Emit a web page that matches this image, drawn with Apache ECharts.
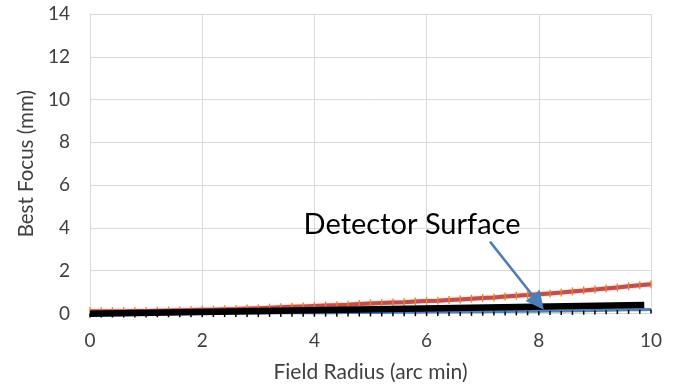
<!DOCTYPE html>
<html>
<head>
<meta charset="utf-8">
<script src="https://cdn.jsdelivr.net/npm/echarts@6/dist/echarts.min.js"></script>
<style>html,body{margin:0;padding:0;background:#fff}#c{width:673px;height:385px}</style>
</head>
<body>
<div id="c"></div>
<script>
// Field radius samples (arc min)
const radius = [0,0.2,0.4,0.6,0.8,1,1.2,1.4,1.6,1.8,2,2.2,2.4,2.6,2.8,3,3.2,3.4,3.6,3.8,4,4.2,4.4,4.6,4.8,5,5.2,5.4,5.6,5.8,6,6.2,6.4,6.6,6.8,7,7.2,7.4,7.6,7.8,8,8.2,8.4,8.6,8.8,9,9.2,9.4,9.6,9.8,10];
// Best focus, red series (mm)
const bestFocusRed = [0.10,0.10,0.11,0.11,0.12,0.12,0.13,0.14,0.15,0.16,0.17,0.18,0.20,0.21,0.23,0.25,0.27,0.29,0.31,0.33,0.35,0.37,0.39,0.41,0.44,0.47,0.49,0.51,0.53,0.56,0.58,0.60,0.63,0.66,0.69,0.72,0.75,0.79,0.83,0.86,0.90,0.94,0.98,1.03,1.07,1.12,1.17,1.22,1.27,1.32,1.37];
// Best focus, blue series (mm)
const bestFocusBlue = [0,0,0,0,0.005,0.005,0.01,0.01,0.01,0.015,0.015,0.02,0.02,0.02,0.025,0.025,0.03,0.03,0.03,0.035,0.035,0.04,0.04,0.045,0.045,0.05,0.05,0.055,0.06,0.06,0.065,0.07,0.07,0.075,0.08,0.085,0.09,0.095,0.10,0.105,0.11,0.115,0.12,0.125,0.13,0.14,0.15,0.16,0.17,0.18,0.19];
// Detector surface (straight line endpoints)
const detectorX = [0, 9.88];
const detectorY = [-0.01, 0.40];
// Annotation
const annotationText = 'Detector Surface';
const annotationAt = [5.74, 4.16];
const arrowFrom = [7.13, 3.36];
const arrowTo = [7.99, 0.51];
// Axis ticks
const xTicks = [0, 2, 4, 6, 8, 10];
const yTicks = [0, 2, 4, 6, 8, 10, 12, 14];

const font = 'Lato, "Open Sans", sans-serif';
const chart = echarts.init(document.getElementById('c'), null, {renderer: 'canvas'});
chart.setOption({
  animation: false,
  grid: {left: 90, right: 22, top: 14, bottom: 71.5, containLabel: false, outerBoundsMode: 'none'},
  xAxis: {
    type: 'value', min: xTicks[0], max: xTicks[xTicks.length - 1], interval: 2,
    name: 'Field Radius (arc min)', nameLocation: 'middle', nameGap: 48,
    nameTextStyle: {fontFamily: font, fontSize: 21, color: '#404040'},
    axisLine: {show: true, lineStyle: {color: '#d9d9d9', width: 1}},
    axisTick: {show: false},
    axisLabel: {fontFamily: font, fontSize: 19, color: '#404040', margin: 18},
    splitLine: {show: true, lineStyle: {color: '#d9d9d9', width: 1}}
  },
  yAxis: {
    type: 'value', min: yTicks[0], max: yTicks[yTicks.length - 1], interval: 2,
    name: 'Best Focus (mm)', nameLocation: 'middle', nameGap: 49, nameRotate: 90,
    nameTextStyle: {fontFamily: font, fontSize: 20.5, color: '#404040'},
    axisLine: {show: true, lineStyle: {color: '#d9d9d9', width: 1}},
    axisTick: {show: false},
    axisLabel: {fontFamily: font, fontSize: 19, color: '#404040', margin: 20},
    splitLine: {show: true, lineStyle: {color: '#d9d9d9', width: 1}}
  },
  series: [
    {
      type: 'line', z: 2,
      data: radius.map((r, i) => [r, bestFocusRed[i]]),
      lineStyle: {color: '#c0504d', width: 4, shadowColor: 'rgba(192,80,77,0.5)', shadowBlur: 2},
      symbol: 'rect', symbolSize: [1.3, 8],
      itemStyle: {color: '#f07f2a'}
    },
    {
      type: 'line', z: 3, clip: false,
      data: radius.map((r, i) => [r, bestFocusBlue[i]]),
      lineStyle: {color: '#4f81bd', width: 3},
      symbol: 'rect', symbolSize: [1.5, 4], symbolOffset: [0, 2],
      itemStyle: {color: '#000'}
    },
    {
      type: 'line', z: 4, clip: false,
      data: detectorX.map((x, i) => [x, detectorY[i]]),
      lineStyle: {color: '#000', width: 6.5},
      symbol: 'none',
      markPoint: {
        symbol: 'circle', symbolSize: 0,
        data: [{coord: annotationAt}],
        label: {show: true, formatter: annotationText, position: 'inside', fontFamily: font, fontSize: 29, color: '#000'}
      },
      markLine: {
        silent: true, symbol: ['none', 'triangle'], symbolSize: 18,
        lineStyle: {color: '#4a7ebb', width: 2.5, type: 'solid'},
        label: {show: false},
        data: [[{coord: arrowFrom}, {coord: arrowTo}]]
      }
    }
  ]
});
</script>
</body>
</html>
